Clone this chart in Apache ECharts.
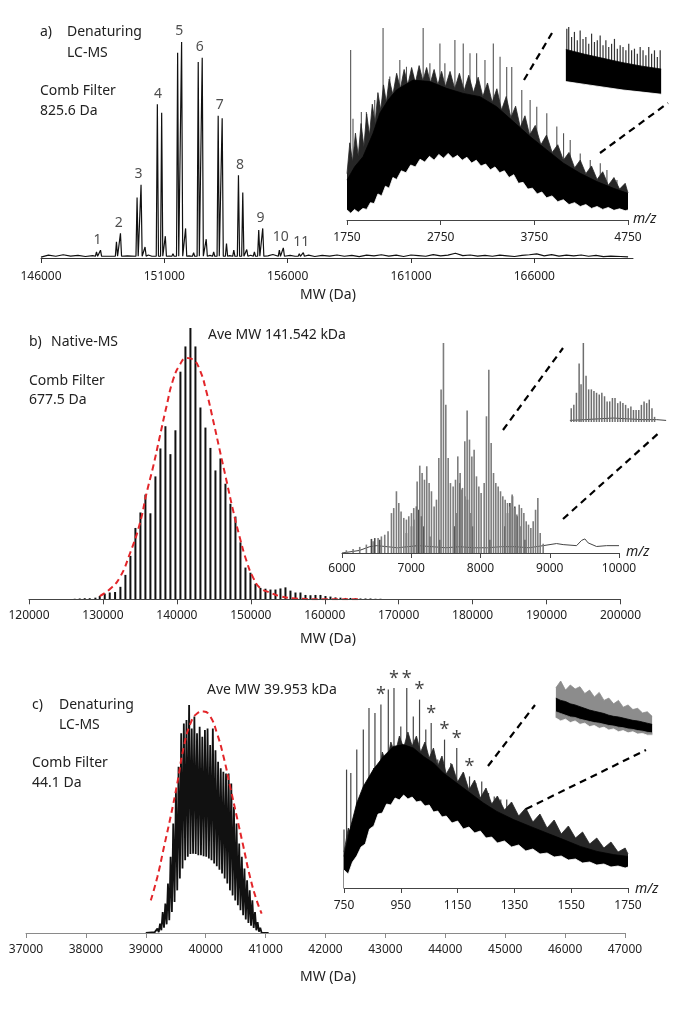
<!DOCTYPE html>
<html>
<head>
<meta charset="utf-8">
<title>Comb filter spectra</title>
<script src="https://cdn.jsdelivr.net/npm/echarts@6.0.0/dist/echarts.min.js"></script>
<style>
  html, body { margin: 0; padding: 0; background: #fff; }
  #chart { width: 675px; height: 1009px; }
</style>
</head>
<body>
<div id="chart"></div>
<script>
var FONT = '"Noto Sans", "DejaVu Sans", sans-serif';

// ---------- a) denaturing LC-MS, deconvolved (MW, %)
var aPeakMw = [148250,148412,149059,149221,149895,150056,150218,150541,150717,150892,151040,151350,151539,151700,151862,152186,152374,152536,152698,153000,153183,153345,153520,153816,154005,154180,154342,154651,154827,154989,155663,155824,156471,156633];
var aPeakInt = [2.8,3.6,7.5,11.4,28.0,33.9,5.1,1.2,71.2,67.3,10.1,2.0,95.0,100,13.7,2.5,90.7,92.7,8.7,2.8,65.8,64.7,6.7,3.6,38.3,30.3,3.9,2.8,12.9,13.7,3.6,4.7,2.0,2.5];
var aLabels = ['1','2','3','4','5','6','7','8','9','10','11'];
var aLabelMw = [148290,149150,149950,150740,151600,152440,153250,154070,154900,155720,156550];
var aLabelInt = [3.6,11.4,33.9,71.2,100,92.7,65.8,38.3,13.7,4.7,2.5];
var aNoise = [[146000,0.4],[146300,1.3],[146600,0.8],[146900,1.5],[147200,0.9],[147500,1.2],[147800,0.7],[148100,1.1],[148700,0.8],[149500,1.0],[150350,1.4],[151200,0.9],[152000,1.0],[152850,1.2],[153650,1.1],[154500,1.3],[155200,1.0],[155400,1.6],[156100,1.2],[156300,0.8],[156850,1.3],[157100,0.7],[157400,1.2],[157700,0.9],[158000,1.4],[158300,0.8],[158600,1.2],[158900,0.6],[159200,1.3],[159500,1.0],[159800,1.5],[160100,0.9],[160400,1.3],[160700,0.7],[161000,1.4],[161300,1.1],[161600,0.8],[161900,1.6],[162200,1.0],[162500,1.3],[162800,2.2],[163100,1.1],[163400,1.4],[163700,0.9],[164000,1.2],[164300,0.8],[164600,1.3],[164900,1.0],[165200,0.7],[165500,1.2],[165800,1.5],[166100,1.9],[166400,1.0],[166700,1.6],[167000,0.9],[167300,1.3],[167600,1.0],[167900,1.4],[168200,0.8],[168500,1.2],[168800,0.6],[169100,0.9],[169500,0.7],[169800,0.5]];

// a) inset, raw m/z spectrum: dense core, ragged edges, tall spikes
var aInMz = [1750,1832,1921,2028,2100,2189,2278,2456,2635,2813,2991,3170,3348,3526,3705,3883,4062,4240,4418,4596,4750];
var aInHigh = [20.7,27.6,32.8,44.9,55.3,62.2,67.4,72.5,71.7,68.2,65.6,63.9,58.7,51.0,43.2,36.3,29.4,24.2,19.9,16.4,13.8];
var aInTop = [[1750,24],[1780,40],[1810,30],[1840,45],[1870,33],[1900,50],[1930,38],[1960,55],[1990,44],[2020,60],[2050,50],[2080,66],[2110,57],[2140,70],[2170,61],[2200,73],[2240,65],[2280,76],[2320,68],[2360,78],[2400,70],[2440,79],[2480,71],[2520,80],[2560,72],[2600,79],[2640,71],[2680,78],[2720,70],[2760,77],[2800,69],[2850,77],[2900,68],[2950,76],[3000,67],[3050,75],[3100,66],[3150,74],[3200,64],[3250,71],[3300,61],[3350,68],[3400,57],[3450,64],[3500,53],[3550,59],[3600,48],[3650,54],[3700,44],[3760,49],[3820,39],[3880,44],[3940,35],[4000,39],[4060,31],[4120,35],[4180,27],[4240,31],[4300,24],[4360,28],[4420,21],[4480,25],[4540,18],[4600,22],[4660,16],[4720,19],[4750,14]];
var aInLowEdge = [[1750,5.2],[1790,3.5],[1830,5.5],[1870,4],[1920,6],[1960,5.5],[2000,9],[2040,8.5],[2080,13.5],[2120,12.5],[2160,17.5],[2200,16.5],[2240,22],[2280,21],[2330,25.5],[2380,24.5],[2430,28.5],[2480,27.5],[2530,31.5],[2580,30],[2630,33],[2680,31],[2730,34],[2780,32],[2830,34.5],[2880,32],[2930,33.5],[2980,31],[3030,32.5],[3080,29.5],[3130,31],[3180,28],[3230,29],[3280,26],[3330,27.5],[3380,24.5],[3430,25.5],[3480,22],[3530,23.5],[3580,19],[3630,19.5],[3680,16],[3730,16.5],[3780,13.5],[3830,14.5],[3880,11.5],[3940,12.5],[4000,9.5],[4060,10.5],[4120,8],[4180,9],[4240,7],[4300,8],[4360,6],[4420,7],[4480,5.5],[4540,6.5],[4600,5],[4660,5.8],[4720,4.8],[4750,5.2]];
var aSpikeMz = [1789,1814,1903,1957,2046,2135,2207,2314,2385,2456,2563,2635,2742,2795,2902,2991,3063,3134,3223,3312,3384,3455,3509,3616,3705,3776,3883,3990,4062,4133,4240,4347,4454,4525,4632,4721];
var aSpikeInt = [88.1,52.5,56.0,56.0,62.2,99.5,74.3,82.9,79.4,75.1,99.5,81.2,91.5,81.2,93.3,91.5,86.4,86.4,82.9,91.5,84.6,79.3,79.3,67.4,62.2,58.7,55.3,48.4,44.9,41.5,34.5,31.1,29.4,25.9,20.7,17.3];
// a) zoomed patch
var aSubX = [0,20,40,60,80,100];
var aSubLow = [22,18,14,10,7,4];
var aSubHigh = [68,61,55,49,44,40];
var aSubSpikeX = [1,3,6,9,12,15,18,21,24,27,30,33,36,39,42,45,48,51,54,57,60,63,66,69,72,75,78,81,84,87,90,93,96,99];
var aSubSpikeInt = [97.6,100,85.7,93,81,95,83,85.7,76,90.5,78.6,81,88,73.8,81,71.4,76,83,69,73.8,71.4,66.7,76,66.7,69,61.9,71.4,66.7,59.5,71.4,61.9,66.7,57.1,66.7];

// ---------- b) native MS
var bMw = [126183,126860,127536,128213,128980,129566,130243,130919,131641,132362,133039,133715,134392,135068,135745,136421,137098,137774,138451,139127,139804,140480,141157,141833,142510,143186,143863,144539,145216,145892,146569,147245,147922,148598,149275,149951,150628,151304,151981,152657,153334,154009,154686,155362,156039,156715,157392,158068,158745,159421,160098,160774,161451,162127,162804,163480,164157,164833,165510,166186,166863,167539];
var bInt = [0.2,0.3,0.4,0.4,0.6,1.2,2.1,2.5,2.7,4.6,9.0,16.0,26.3,32.0,38.6,31.7,45.3,55.6,63.8,53.5,62.3,83.9,93.2,100,93.2,70.7,63.3,55.8,47.5,51.9,42.6,35.2,30.5,21.0,11.7,9.8,5.7,4.2,3.9,3.6,3.6,4.0,4.4,3.2,2.5,2.5,1.6,1.5,1.6,1.6,1.2,1.0,0.7,0.6,0.5,0.5,0.4,0.3,0.3,0.3,0.2,0.2];
var bFitMw = [129566,130919,132272,133625,134978,135880,136782,137684,138586,139488,140390,141292,142194,143096,143998,144900,145802,146704,147606,148508,149410,150312,151214,152566,153919,156000,160000,165000];
var bFitInt = [1.2,3.7,8.0,16.7,27.8,38.9,48.8,59.9,71.0,80.9,86.4,88.9,88.3,84.6,76.5,66.0,54.9,43.8,32.7,22.8,14.2,8.0,4.3,2.5,1.2,0.3,0,0];
// b) inset m/z
var bInMz = [6063,6160,6256,6352,6449,6521,6569,6617,6665,6714,6747,6786,6820,6853,6892,6930,6964,7003,7036,7085,7123,7157,7191,7224,7258,7292,7330,7364,7398,7431,7465,7499,7533,7566,7605,7639,7672,7706,7740,7773,7807,7841,7875,7908,7942,7976,8009,8053,8086,8120,8154,8188,8221,8255,8289,8322,8356,8390,8424,8457,8491,8525,8559,8592,8626,8660,8693,8727,8761,8795,8828,8862,8905];
var bInInt = [1.3,1.9,2.9,4.0,5.6,7.1,7.9,8.7,10.3,19.0,21.4,29.4,23.8,19.8,16.7,15.9,17.5,19.0,21.4,34.1,41.6,38.1,34.9,41.3,33.3,29.4,22.2,25.4,45.2,77.8,100,70.6,45.2,33.3,31.7,34.9,46.0,38.1,31.0,53.2,67.9,54.0,46.0,49.2,36.5,31.7,28.6,33.3,65.1,87.3,52.4,38.1,33.3,31.7,29.4,27.0,25.4,23.8,22.2,27.8,21.4,18.3,23.0,21.4,19.0,15.1,13.5,11.9,15.1,20.6,26.2,9.5,4.4];
var bDarkMz = [6425,6473,6545,6930,7003,7036,7075,7109,7147,7181,7268,7412,7629,7663,7701,7735,7773,7812,7846,7884,8135,8351,8390,8424,8462,8496,8530,8568,8641];
var bDarkInt = [6.7,7.1,6.3,9.5,12.7,15.9,22.2,20.6,17.5,12.7,7.9,6.3,12.7,19.0,33.3,30.2,27.0,25.4,19.0,12.7,6.3,12.7,19.0,23.8,27.0,22.2,17.5,12.7,6.3];
var bBaseMz = [6000,6250,6400,6500,6650,6800,6950,7100,7300,7500,7700,7900,8100,8300,8500,8700,8905,9098,9194,9387,9460,9507,9555,9676,9821,10000];
var bBaseInt = [0,1.2,3,3.5,3,2.5,3,3.5,3,2.5,3,2.5,2.5,3,3,2.5,3.5,4.5,4.0,3.5,6.0,6.7,4.8,3.1,3.5,3.5];
// b) zoomed patch
var bSubX = [1.4,4.1,6.8,9.6,11.6,14.0,16.8,19.5,22.3,25.0,27.7,30.5,33.2,36.0,38.7,41.4,44.2,46.9,49.7,52.4,55.1,57.9,60.6,63.4,66.1,68.8,71.6,74.3,77.1,79.8,82.5,85.3,88.0];
var bSubInt = [17.4,21.7,37,73.9,47.8,100,58.7,41.3,41.3,39.1,37,34.8,37,32.6,26.1,26.1,30.4,30.4,23.9,26.1,23.9,21.7,17.4,19.6,15.2,15.2,15.2,21.7,26.1,23.9,28.3,17.4,6.5];
var bSubBaseX = [0,15,30,45,60,75,90,100];
var bSubBaseInt = [2,3,4,5,4,3,3,2];

// ---------- c) denaturing LC-MS, smaller protein
var cPeakMw = [39150,39194,39238,39282,39326,39370,39414,39458,39503,39547,39591,39635,39679,39723,39767,39811,39855,39899,39943,39987,40031,40075,40119,40163,40207,40251,40295,40339,40383,40427,40471,40515,40559,40603,40647,40691,40735,40779,40823,40867,40911,40955];
var cPeakInt = [0.4,1.9,4.1,9.2,12.9,21.7,33.4,48.0,62.7,72.9,87.6,91.9,93.4,100,89.7,94.9,87.6,90.5,86.1,89.0,89.7,82.4,89.7,80.2,75.1,72.2,70.7,70.0,70.0,65.6,55.3,48.0,39.2,33.4,28.3,23.1,18.7,14.3,9.2,4.8,2.3,0.9];
var cValleyMw = [39172,39216,39260,39304,39348,39392,39436,39480,39525,39569,39613,39657,39701,39745,39789,39833,39877,39921,39965,40009,40053,40097,40141,40185,40229,40273,40317,40361,40405,40449,40493,40537,40581,40625,40669,40713,40757,40801,40845,40889,40933];
var cValleyInt = [0,0.4,1.2,2.3,3.8,5.6,9.2,13.6,18.7,23.9,28.3,31.9,33.4,34.6,34.8,34.6,34.1,34.1,33.7,33.4,32.7,31.9,30.5,29.3,27.8,26.1,23.9,21.7,18.7,16.5,14.3,12.2,10.0,7.8,5.9,4.4,3.2,2.2,1.2,0.6,0.1];
var cFitMw = [39083,39193,39304,39414,39525,39635,39746,39856,39967,40077,40188,40298,40409,40519,40630,40740,40851,40934];
var cFitInt = [14.3,24.6,37.8,51.0,65.6,81.7,91.9,96.3,97.1,94.9,87.6,77.3,64.1,51.0,37.8,24.6,14.3,8.5];
// c) inset m/z
var cInMz = [750,771,795,818,853,889,924,959,994,1030,1065,1100,1147,1194,1241,1288,1347,1406,1464,1523,1582,1641,1699,1750];
var cInHigh = [15.8,29.2,42.5,50.8,59.2,65.8,70.8,71.7,70.0,65.8,62.5,57.5,52.5,47.5,42.5,38.3,34.2,30.8,27.5,24.2,20.8,18.3,16.7,15.8];
var cInTop = [[750,18],[765,30],[780,26],[795,42],[810,38],[825,52],[840,48],[855,60],[870,55],[885,68],[900,62],[915,73],[930,67],[945,76],[960,70],[975,78],[990,71],[1005,76],[1020,68],[1035,73],[1050,65],[1065,70],[1080,61],[1095,66],[1110,57],[1130,62],[1150,53],[1170,58],[1190,49],[1210,54],[1230,45],[1250,50],[1270,42],[1290,46],[1315,39],[1340,43],[1365,36],[1390,40],[1415,33],[1440,37],[1465,30],[1490,34],[1515,27],[1540,31],[1565,25],[1590,28],[1615,22],[1640,25],[1665,20],[1690,23],[1715,18],[1740,20],[1750,17]];
var cInLowEdge = [[750,9],[765,7],[780,13],[795,16],[810,20.5],[825,22],[840,29.5],[855,31],[870,37],[885,37.5],[900,42],[915,41.5],[930,45],[945,44],[960,46.5],[975,44.5],[990,45.5],[1005,43],[1020,43.5],[1035,41],[1050,41.5],[1065,38],[1080,38.5],[1095,35.5],[1110,36],[1130,32.5],[1150,33.5],[1170,29.5],[1190,30.5],[1210,27.5],[1230,28.5],[1250,25],[1270,25.5],[1290,22.5],[1315,23.5],[1340,20.5],[1365,21.5],[1390,18.5],[1415,19.5],[1440,17],[1465,17.5],[1490,15.5],[1515,16],[1540,14],[1565,14.5],[1590,12.5],[1615,13],[1640,11.5],[1665,12],[1690,10.5],[1715,11],[1740,10],[1750,10.5]];
var cSpikeMz = [750,759,774,795,818,838,859,880,906,926,950,971,994,1016,1038,1057,1080,1104,1126,1147,1171,1192,1214,1235,1259,1279,1302,1323,1347,1370,1406,1453,1523,1594,1664,1723];
var cSpikeInt = [29.2,59.2,57.5,69.2,79.2,90.0,87.5,91.7,99.2,100,80.8,100,85.8,94.2,79.2,82.5,64.2,74.2,62.5,70.0,57.5,55.8,52.5,53.3,47.5,45.8,44.2,44.2,39.2,35.8,32.5,30.8,25.8,22.5,19.2,17.5];
var cStarMz = [880,926,971,1016,1057,1104,1147,1192];
var cStarInt = [91.7,100,100,94.2,82.5,74.2,70.0,55.8];
// c) zoomed patch
var cSubX = [0,5,10,15,20,25,30,35,40,45,50,55,60,65,70,75,80,85,90,95,100];
var cSubGrayHigh = [88,100,84,93,86,90,78,84,72,80,66,70,60,66,54,58,50,52,44,46,38];
var cSubCoreHigh = [70,66,64,60,58,55,52,49,47,45,43,40,38,37,35,33,31,30,28,26,24];
var cSubCoreLow = [46,43,40,37,36,33,31,29,27,26,24,22,21,19,18,16,15,13,12,10,9];
var cSubGrayLow = [35,30,33,27,30,24,26,20,22,17,19,14,16,11,13,9,11,7,8,5,5];

// ---------- helpers
function pairs(xs, ys) {
  return xs.map(function (x, i) { return [x, ys[i]]; });
}
// same pairs, reaching a little past both ends so a white mask hides the edge pixels
function padded(xs, ys, pad) {
  var p = pairs(xs, ys);
  p.unshift([xs[0] - pad, ys[0]]);
  p.push([xs[xs.length - 1] + pad, ys[ys.length - 1]]);
  return p;
}
function area(idx, data, color, z) {
  return { type: 'line', xAxisIndex: idx, yAxisIndex: idx, data: data, symbol: 'none', silent: true,
    lineStyle: { width: 0.8, color: color }, areaStyle: { color: color, opacity: 1 }, z: z };
}
function bars(idx, data, w, color, z) {
  return { type: 'bar', xAxisIndex: idx, yAxisIndex: idx, data: data, barWidth: w, barGap: '-100%',
    itemStyle: { color: color }, silent: true, z: z };
}
function trace(idx, data, color, w, z, dash) {
  return { type: 'line', xAxisIndex: idx, yAxisIndex: idx, data: data, symbol: 'none', silent: true,
    smooth: !!dash, lineStyle: { color: color, width: w, type: dash || 'solid' }, z: z };
}
function mainX(g, min, max, step, col, margin) {
  return { type: 'value', gridIndex: g, min: min, max: max, interval: step, z: 10,
    axisLine: { show: true, onZero: false, lineStyle: { color: col, width: 1 } },
    axisTick: { show: true, inside: false, length: 5, lineStyle: { color: col } },
    axisLabel: { color: '#222', fontSize: 12, fontFamily: FONT, margin: margin, showMaxLabel: (max - min) % step === 0,
      formatter: function (v) { return String(v); } },
    splitLine: { show: false } };
}
function hiddenX(g) {
  return { type: 'value', gridIndex: g, min: -3, max: 103, show: false };
}
function hiddenY(g) {
  return { type: 'value', gridIndex: g, min: 0, max: 100, show: false };
}

// a) main trace: baseline noise plus narrow peaks
var aTrace = aNoise.filter(function (p) {
  return aPeakMw.every(function (m) { return Math.abs(m - p[0]) > 100; });
});
aPeakMw.forEach(function (m, i) {
  aTrace.push([m - 45, 0.8], [m, aPeakInt[i]], [m + 45, 0.8]);
});
aTrace.sort(function (p, q) { return p[0] - q[0]; });

// c) main trace: peak / valley alternation
var cTrace = [[39000, 0]];
cPeakMw.forEach(function (m, i) {
  cTrace.push([m, cPeakInt[i]]);
  if (i < cValleyMw.length) cTrace.push([cValleyMw[i], cValleyInt[i]]);
});
cTrace.push([41050, 0]);

var series = [
  // a
  trace(0, aTrace, '#111', 1.2, 3),
  { type: 'scatter', xAxisIndex: 0, yAxisIndex: 0, data: pairs(aLabelMw, aLabelInt), symbolSize: 1, silent: true,
    itemStyle: { color: 'rgba(0,0,0,0)' }, z: 4,
    label: { show: true, position: 'top', distance: 3, color: '#222', fontSize: 14, fontFamily: FONT,
      formatter: function (p) { return aLabels[p.dataIndex]; } } },
  bars(1, pairs(aSpikeMz, aSpikeInt), 1.1, '#555', 2),
  area(1, aInTop, '#262626', 3),
  area(1, pairs(aInMz, aInHigh), '#000', 4),
  area(1, aInLowEdge, '#fff', 5),
  bars(2, pairs(aSubSpikeX, aSubSpikeInt), 1.2, '#333', 2),
  area(2, pairs(aSubX, aSubHigh), '#000', 4),
  area(2, padded(aSubX, aSubLow, 2.5), '#fff', 5),
  // b
  bars(3, pairs(bMw, bInt), 2, '#111', 2),
  trace(3, pairs(bFitMw, bFitInt), '#e3262a', 2, 4, [6, 4]),
  trace(4, pairs(bBaseMz, bBaseInt), '#444', 1, 2),
  bars(4, pairs(bDarkMz, bDarkInt), 1.6, '#484848', 3),
  bars(4, pairs(bInMz, bInInt), 1.6, '#7d7d7d', 4),
  trace(5, pairs(bSubBaseX, bSubBaseInt), '#444', 1, 2),
  bars(5, pairs(bSubX, bSubInt), 1.5, '#6e6e6e', 3),
  // c
  trace(6, cTrace, '#111', 1.8, 3),
  trace(6, pairs(cFitMw, cFitInt), '#e3262a', 2, 4, [6, 4]),
  bars(7, pairs(cSpikeMz, cSpikeInt), 1.2, '#444', 2),
  area(7, cInTop, '#262626', 3),
  area(7, pairs(cInMz, cInHigh), '#000', 4),
  area(7, cInLowEdge, '#fff', 5),
  { type: 'scatter', xAxisIndex: 7, yAxisIndex: 7, data: pairs(cStarMz, cStarInt), symbolSize: 1, silent: true,
    itemStyle: { color: 'rgba(0,0,0,0)' }, z: 6,
    label: { show: true, position: 'top', distance: 0, color: '#111', fontSize: 18, fontFamily: FONT, formatter: '*' } },
  area(8, pairs(cSubX, cSubGrayHigh), '#8c8c8c', 3),
  area(8, pairs(cSubX, cSubCoreHigh), '#000', 4),
  area(8, pairs(cSubX, cSubCoreLow), '#8c8c8c', 5),
  area(8, padded(cSubX, cSubGrayLow, 2.5), '#fff', 6)
];

// text annotations and zoom guides
function txt(s, x, y, italic) {
  return { type: 'text', x: x, y: y, silent: true, z: 20,
    style: { text: s, fill: '#222', fontSize: 14, fontFamily: FONT, fontStyle: italic ? 'italic' : 'normal',
      align: 'left', verticalAlign: 'middle' } };
}
function dash(x1, y1, x2, y2) {
  return { type: 'line', silent: true, z: 20, shape: { x1: x1, y1: y1, x2: x2, y2: y2 },
    style: { stroke: '#000', lineWidth: 2.2, lineDash: [7, 5] } };
}
var graphic = [
  txt('a)', 40, 32), txt('Denaturing', 67, 32), txt('LC-MS', 67, 53),
  txt('Comb Filter', 40, 91), txt('825.6 Da', 40, 111), txt('MW (Da)', 300, 295), txt('m/z', 633, 219, true),
  txt('b)', 29, 342), txt('Native-MS', 51, 342), txt('Comb Filter', 29, 381), txt('677.5 Da', 29, 400),
  txt('Ave MW 141.542 kDa', 208, 335), txt('MW (Da)', 300, 639), txt('m/z', 626, 552, true),
  txt('c)', 32, 705), txt('Denaturing', 59, 705), txt('LC-MS', 59, 725), txt('Comb Filter', 32, 763),
  txt('44.1 Da', 32, 783), txt('Ave MW 39.953 kDa', 207, 690), txt('MW (Da)', 300, 977), txt('m/z', 635, 889, true),
  dash(524, 80, 552, 33), dash(600, 153, 668, 103),
  dash(503, 430, 563, 348), dash(563, 519, 661, 431),
  dash(488, 766, 535, 705), dash(526, 809, 646, 750)
];

var chart = echarts.init(document.getElementById('chart'));
chart.setOption({
  animation: false,
  backgroundColor: '#fff',
  textStyle: { fontFamily: FONT },
  grid: [
    { left: 41, top: 42, width: 592, height: 216, outerBoundsMode: 'none' },
    { left: 347, top: 27, width: 281, height: 193, outerBoundsMode: 'none' },
    { left: 563, top: 27, width: 101, height: 70, outerBoundsMode: 'none' },
    { left: 29, top: 328, width: 591.5, height: 271.3, outerBoundsMode: 'none' },
    { left: 342, top: 343, width: 277, height: 210, outerBoundsMode: 'none' },
    { left: 567, top: 343, width: 102, height: 79, outerBoundsMode: 'none' },
    { left: 26, top: 705, width: 599, height: 228, outerBoundsMode: 'none' },
    { left: 344, top: 688, width: 284, height: 200, outerBoundsMode: 'none' },
    { left: 553, top: 681, width: 102, height: 57, outerBoundsMode: 'none' }
  ],
  xAxis: [
    mainX(0, 146000, 170000, 5000, '#333', 13),
    mainX(1, 1750, 4750, 1000, '#444', 12),
    hiddenX(2),
    mainX(3, 120000, 200000, 10000, '#444', 10),
    mainX(4, 6000, 10000, 1000, '#444', 10),
    hiddenX(5),
    mainX(6, 37000, 47000, 1000, '#8a8a8a', 11),
    mainX(7, 750, 1750, 200, '#444', 12),
    hiddenX(8)
  ],
  yAxis: [0, 1, 2, 3, 4, 5, 6, 7, 8].map(hiddenY),
  series: series,
  graphic: graphic
});
</script>
</body>
</html>
